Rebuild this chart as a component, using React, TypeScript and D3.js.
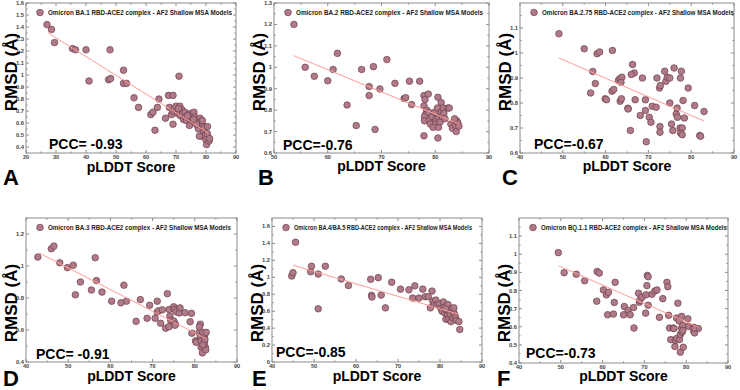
import React from "react";
import * as d3 from "d3";

// ---------- data ----------
const panelLetters = ["A", "B", "C", "D", "E", "F"];
const variants = ["BA.1", "BA.2", "BA.2.75", "BA.3", "BA.4/BA.5", "BQ.1.1"];
const pccLabels = ["PCC= -0.93", "PCC=-0.76", "PCC=-0.67", "PCC= -0.91", "PCC=-0.85", "PCC=-0.73"];

const xDomains: [number, number][] = [[20, 90], [50, 90], [40, 90], [40, 90], [40, 90], [40, 90]];
const yDomains: [number, number][] = [[0.35, 1.6], [0.6, 1.3], [0.6, 1.2], [0.4, 1.3], [0, 1.7], [0.4, 1.2]];

const xTicksA = [20, 30, 40, 50, 60, 70, 80, 90];
const xTicksB = [50, 60, 70, 80, 90];
const xTicksC = [40, 50, 60, 70, 80, 90];
const xTicksD = [40, 50, 60, 70, 80, 90];
const xTicksE = [40, 50, 60, 70, 80, 90];
const xTicksF = [40, 50, 60, 70, 80, 90];

const yTicksA = [0.4, 0.5, 0.6, 0.7, 0.8, 0.9, 1, 1.1, 1.2, 1.3, 1.4, 1.5, 1.6];
const yTicksB = [0.6, 0.7, 0.8, 0.9, 1, 1.1, 1.2, 1.3];
const yTicksC = [0.6, 0.7, 0.8, 0.9, 1, 1.1];
const yTicksD = [0.4, 0.6, 0.8, 1, 1.2];
const yTicksE = [0, 0.2, 0.4, 0.6, 0.8, 1, 1.2, 1.4, 1.6];
const yTicksF = [0.4, 0.5, 0.6, 0.7, 0.8, 0.9, 1, 1.1];

const ptsA: [number, number][] = [
  [27, 1.42], [28.5, 1.38], [29.5, 1.27], [35.5, 1.22], [36.5, 1.21], [40, 1.21], [48, 1.21],
  [52.5, 1.04], [41, 0.95], [47.5, 0.96], [48.2, 0.97], [52.5, 0.93], [53.5, 0.93],
  [56, 0.81], [57.5, 0.73], [61.6, 0.67], [62.3, 0.69], [63, 0.54], [63.8, 0.73], [64.3, 0.8],
  [66.5, 0.64], [67.5, 0.83], [69, 0.83], [71, 0.99], [69, 0.59],
  [67.8, 0.73], [68.5, 0.67], [69, 0.7], [69.5, 0.72], [70, 0.74], [70.5, 0.68], [71, 0.7],
  [71.3, 0.74], [71.5, 0.66], [72, 0.71], [72.3, 0.68], [72.5, 0.63], [73, 0.69], [73.2, 0.65],
  [73.5, 0.62], [74, 0.67], [74.3, 0.64], [74.5, 0.58], [75, 0.68], [75.3, 0.66], [75.5, 0.62],
  [76, 0.69], [76.2, 0.65], [76.5, 0.6], [77, 0.63], [77.3, 0.57], [77.5, 0.55], [78, 0.64],
  [78.3, 0.61], [78.5, 0.49], [79, 0.58], [79.2, 0.53], [79.5, 0.56], [79.8, 0.5], [80, 0.46],
  [80.2, 0.42], [80.5, 0.57], [80.5, 0.51], [81, 0.45], [81.2, 0.47], [77.8, 0.49], [76.8, 0.59],
  [78.8, 0.62], [70.8, 0.72], [73.8, 0.66], [75.8, 0.63],
];
const ptsB: [number, number][] = [
  [53.7, 1.2], [55.8, 1.0], [57.5, 0.958], [60, 0.937], [61, 0.99], [61.8, 1.065], [63.6, 0.824],
  [65.3, 0.728], [66.3, 0.99], [67.7, 0.91], [67.7, 0.868], [68.5, 1.003], [68.8, 0.71], [69.7, 0.899],
  [71, 1.036], [72.5, 0.925], [74.2, 0.854], [74.5, 0.858], [75.2, 0.935], [75.6, 0.826], [77.1, 0.935],
  [77.9, 0.868], [78.1, 0.85], [78.7, 0.875], [77.9, 0.82], [78.4, 0.8], [78.2, 0.78], [78, 0.77],
  [78, 0.75], [77.9, 0.68], [78.8, 0.79], [78.9, 0.75], [79.1, 0.735], [79.4, 0.77], [79.6, 0.72],
  [79.9, 0.79], [80.1, 0.745], [80.2, 0.76], [80.4, 0.81], [80.6, 0.765], [80.6, 0.72], [80.5, 0.67],
  [80.5, 0.86], [80.9, 0.745], [81.1, 0.79], [81.1, 0.835], [81.3, 0.77], [81.5, 0.81], [81.6, 0.785],
  [81.8, 0.76], [82.4, 0.81], [82.6, 0.81], [82.9, 0.735], [83.2, 0.715], [83.7, 0.73], [84, 0.75],
  [83.9, 0.7], [84.2, 0.74], [84.4, 0.725], [83.6, 0.76],
];
const ptsC: [number, number][] = [
  [49.1, 1.077], [55, 1.017], [58, 0.997], [58.6, 1.004], [61.6, 1.01], [57, 0.926], [57.6, 0.878],
  [56.5, 0.84], [59.9, 0.817], [60.2, 0.813], [61.5, 0.847], [61.9, 0.854], [63, 0.89], [63.3, 0.897],
  [63.8, 0.903], [63.6, 0.883], [63.4, 0.807], [63.7, 0.817], [65.2, 0.779], [65.3, 0.776], [65.8, 0.69],
  [66.3, 0.954], [66.7, 0.92], [66, 0.914], [66.9, 0.813], [68.1, 0.75], [68.6, 0.9], [69.3, 0.813],
  [69.3, 0.77], [69.5, 0.645], [70.2, 0.743], [70.6, 0.723], [70.9, 0.787], [71.8, 0.783], [72, 0.9],
  [72.6, 0.86], [72.8, 0.87], [72.7, 0.706], [72.7, 0.683], [73.8, 0.927], [74.1, 0.887], [74.4, 0.903],
  [75, 0.9], [75, 0.8], [75.4, 0.716], [75.7, 0.69], [76, 0.94], [76.5, 0.756], [76.7, 0.78],
  [76.8, 0.743], [77.5, 0.9], [77.7, 0.927], [77.4, 0.7], [77.9, 0.7], [77.5, 0.68], [77.9, 0.673],
  [78.1, 0.81], [78.4, 0.74], [79.3, 0.86], [80.8, 0.79], [83, 0.766], [82, 0.67], [82.2, 0.667],
];
const ptsD: [number, number][] = [
  [42.8, 1.056], [46, 1.108], [46.6, 1.124], [48, 1.02], [49.8, 0.99], [51.2, 1.005], [51.7, 0.82],
  [52.9, 0.9], [55.5, 0.85], [56.4, 1.052], [56.7, 0.909], [58, 0.837], [60.3, 0.78], [62.5, 0.77],
  [63.2, 0.88], [63.8, 0.78], [66.1, 0.654], [67.1, 0.79], [68.7, 0.673], [69.3, 0.755], [70.6, 0.673],
  [71.1, 0.78], [71.1, 0.712], [71.4, 0.72], [71.9, 0.642], [72.3, 0.726], [73.1, 0.611], [73.5, 0.827],
  [73.9, 0.728], [73.9, 0.621], [74.1, 0.687], [74.3, 0.66], [75, 0.745], [75.2, 0.728], [75, 0.656],
  [75.4, 0.636], [75.3, 0.63], [75.6, 0.714], [76.3, 0.706], [76.5, 0.738], [77.7, 0.708], [78.9, 0.652],
  [79.2, 0.704], [79.3, 0.58], [80.2, 0.533], [80.3, 0.523], [81, 0.585], [81.3, 0.636], [81.1, 0.62],
  [81.3, 0.564], [81.5, 0.533], [81.5, 0.492], [81.8, 0.457], [81.9, 0.585], [82.3, 0.554], [82.3, 0.523],
  [82.4, 0.54], [82.5, 0.492], [82.7, 0.585], [82.6, 0.476], [81.9, 0.507],
];
const ptsE: [number, number][] = [
  [44.7, 1.015], [45, 1.054], [45.6, 1.414], [49.2, 1.065], [49.4, 1.131], [51, 1.038], [51, 0.628],
  [52.7, 1.131], [56.5, 0.98], [58.2, 0.903], [63.5, 0.976], [63.7, 0.787], [63.8, 0.767], [65.3, 0.996],
  [66, 0.79], [67, 0.639], [68.5, 0.941], [70.6, 0.86], [72.6, 0.852], [73.5, 0.755], [74, 0.899],
  [75, 0.755], [75.9, 0.86], [76.5, 0.771], [77.2, 0.771], [78.1, 0.837], [77.7, 0.639], [78.3, 0.717],
  [78.7, 0.686], [79, 0.732], [79.3, 0.674], [79.8, 0.686], [80.2, 0.635], [80.5, 0.6], [80.8, 0.709],
  [81, 0.647], [81.1, 0.58], [81.4, 0.504], [81.6, 0.604], [81.9, 0.678], [81.9, 0.562], [82.1, 0.504],
  [82.3, 0.608], [82.6, 0.477], [82.5, 0.562], [82.8, 0.632], [83.1, 0.6], [83.1, 0.523], [83.4, 0.57],
  [83.7, 0.531], [83.9, 0.492], [84.5, 0.477], [84.7, 0.384], [81.3, 0.628], [83.3, 0.639],
];
const ptsF: [number, number][] = [
  [49.4, 1.009], [50.8, 0.898], [53.7, 0.89], [55.7, 0.854], [58.6, 0.741], [58.7, 0.905], [59.2, 0.896],
  [60.2, 0.803], [60.9, 0.776], [61.4, 0.79], [61.2, 0.666], [63, 0.845], [62.8, 0.734], [62.6, 0.67],
  [65, 0.666], [65.2, 0.712], [66.1, 0.69], [66.6, 0.666], [67.4, 0.706], [67.5, 0.593], [68.6, 0.785],
  [68.8, 0.735], [68.9, 0.746], [69.4, 0.763], [70.4, 0.776], [70.3, 0.675], [70.6, 0.827], [70.7, 0.883],
  [70.9, 0.876], [70.9, 0.719], [71.8, 0.779], [72.5, 0.797], [73, 0.803], [73.6, 0.652], [74.4, 0.755],
  [75.4, 0.845], [75.6, 0.821], [75.8, 0.663], [76, 0.593], [76.3, 0.529], [76.9, 0.593], [77.1, 0.59],
  [77.3, 0.491], [77.4, 0.524], [77.7, 0.535], [78, 0.73], [77.7, 0.648], [78.3, 0.632], [78.4, 0.529],
  [78.6, 0.557], [78.6, 0.46], [78.9, 0.657], [78.9, 0.593], [79, 0.57], [79.2, 0.608], [79.2, 0.579],
  [79.3, 0.487], [80.4, 0.644], [80.6, 0.602], [81.8, 0.597], [81.8, 0.575], [82, 0.566], [82.9, 0.59],
  [81.9, 0.592],
];

// fitted regression line endpoints
const fitA: [number, number][] = [[27.4, 1.35], [80.6, 0.52]];
const fitB: [number, number][] = [[53.7, 1.054], [84.5, 0.735]];
const fitC: [number, number][] = [[49.1, 0.98], [83, 0.728]];
const fitD: [number, number][] = [[43, 1.083], [82.5, 0.548]];
const fitE: [number, number][] = [[45, 1.143], [84.5, 0.562]];
const fitF: [number, number][] = [[49.5, 0.936], [83, 0.597]];

const allPts = [ptsA, ptsB, ptsC, ptsD, ptsE, ptsF];
const allFits = [fitA, fitB, fitC, fitD, fitE, fitF];
const allXTicks = [xTicksA, xTicksB, xTicksC, xTicksD, xTicksE, xTicksF];
const allYTicks = [yTicksA, yTicksB, yTicksC, yTicksD, yTicksE, yTicksF];

// ---------- layout ----------
const frames = [
  { x0: 26, x1: 236, y0: 3, y1: 153 },
  { x0: 274, x1: 489, y0: 3, y1: 153 },
  { x0: 520, x1: 734, y0: 3, y1: 153 },
  { x0: 26, x1: 237, y0: 218, y1: 362 },
  { x0: 272, x1: 482, y0: 218, y1: 362 },
  { x0: 519, x1: 728, y0: 218, y1: 363 },
];
const letterPos = [[3, 185], [258, 185], [502, 185], [3, 386], [252, 386], [497, 386]];
const pccPos = [[49, 149], [283, 150], [534, 149], [36, 359], [276, 357], [526, 358]];
const yTitleCy = [72, 72, 72, 303, 303, 303];
const xTitleBase = [172, 171, 171, 381, 381, 381];
const legendW = [184, 187, 192, 183, 178, 186];

const FONT = "'Liberation Sans', Arial, Helvetica, sans-serif";
const FRAME = "#8c8c8c";
const MARK_FILL = "#b07b88";
const MARK_STROKE = "#6f3d4b";
const FIT = "#ff9b95";

const fmt = (v: number) => String(Math.round(v * 100) / 100);

function Panel({ i }: { i: number }) {
  const f = frames[i];
  const x = d3.scaleLinear().domain(xDomains[i]).range([f.x0, f.x1]);
  const y = d3.scaleLinear().domain(yDomains[i]).range([f.y1, f.y0]);
  const xt = allXTicks[i];
  const yt = allYTicks[i];
  const xMinor: number[] = [];
  for (let k = 0; k < xt.length - 1; k++) xMinor.push((xt[k] + xt[k + 1]) / 2);
  const yMinor: number[] = [];
  for (let k = 0; k < yt.length - 1; k++) yMinor.push((yt[k] + yt[k + 1]) / 2);
  const ys = yt[1] - yt[0];
  if (yt[yt.length - 1] + ys / 2 < yDomains[i][1]) yMinor.push(yt[yt.length - 1] + ys / 2);
  if (yt[0] - ys / 2 > yDomains[i][0]) yMinor.push(yt[0] - ys / 2);
  const line = d3.line<[number, number]>().x((d) => x(d[0])).y((d) => y(d[1]));
  const M = 3, m = 1.6;
  const cx = (f.x0 + f.x1) / 2;
  return (
    <g>
      <rect x={f.x0} y={f.y0} width={f.x1 - f.x0} height={f.y1 - f.y0} fill="white" stroke={FRAME} strokeWidth={1} />
      {xt.map((t) => (
        <g key={"xt" + t}>
          <line x1={x(t)} x2={x(t)} y1={f.y1} y2={f.y1 - M} stroke={FRAME} />
          <line x1={x(t)} x2={x(t)} y1={f.y0} y2={f.y0 + M} stroke={FRAME} />
          <text x={x(t)} y={f.y1 + 6.3} fontSize={5.6} fontWeight="bold" fill="#444" textAnchor="middle">{fmt(t)}</text>
        </g>
      ))}
      {xMinor.map((t) => (
        <g key={"xm" + t}>
          <line x1={x(t)} x2={x(t)} y1={f.y1} y2={f.y1 - m} stroke={FRAME} />
          <line x1={x(t)} x2={x(t)} y1={f.y0} y2={f.y0 + m} stroke={FRAME} />
        </g>
      ))}
      {yt.map((t) => (
        <g key={"yt" + t}>
          <line x1={f.x0} x2={f.x0 + M} y1={y(t)} y2={y(t)} stroke={FRAME} />
          <line x1={f.x1} x2={f.x1 - M} y1={y(t)} y2={y(t)} stroke={FRAME} />
          <text x={f.x0 - 2} y={y(t) + 2} fontSize={5.8} fontWeight="bold" fill="#444" textAnchor="end">{fmt(t)}</text>
        </g>
      ))}
      {yMinor.map((t) => (
        <g key={"ym" + t}>
          <line x1={f.x0} x2={f.x0 + m} y1={y(t)} y2={y(t)} stroke={FRAME} />
          <line x1={f.x1} x2={f.x1 - m} y1={y(t)} y2={y(t)} stroke={FRAME} />
        </g>
      ))}
      {allPts[i].map((p, k) => (
        <circle key={k} cx={x(p[0])} cy={y(p[1])} r={3.3} fill={MARK_FILL} stroke={MARK_STROKE} strokeWidth={0.7} />
      ))}
      <path d={line(allFits[i]) || ""} fill="none" stroke={FIT} strokeWidth={1} />
      <circle cx={f.x0 + 14} cy={f.y0 + 9.5} r={3.3} fill={MARK_FILL} stroke={MARK_STROKE} strokeWidth={0.7} />
      <text x={f.x0 + 22} y={f.y0 + 12} fontSize={6.8} fontWeight="bold" fill="#222" textLength={legendW[i]} lengthAdjust="spacingAndGlyphs">
        {`Omicron ${variants[i]} RBD-ACE2 complex - AF2 Shallow MSA Models`}
      </text>
      <text x={pccPos[i][0]} y={pccPos[i][1]} fontSize={14} fontWeight="bold" fill="#000">{pccLabels[i]}</text>
      <text x={cx} y={xTitleBase[i]} fontSize={14} fontWeight="bold" fill="#000" textAnchor="middle">pLDDT Score</text>
      <text transform={`translate(${f.x0 - 9},${yTitleCy[i]}) rotate(-90)`} fontSize={17} fontWeight="bold" fill="#000" textAnchor="middle">RMSD (Å)</text>
      <text x={letterPos[i][0]} y={letterPos[i][1]} fontSize={22} fontWeight="bold" fill="#000">{panelLetters[i]}</text>
    </g>
  );
}

export default function App() {
  return (
    <svg width={740} height={390} style={{ position: "absolute", left: 0, top: 0, background: "white" }} fontFamily={FONT}>
      <rect x={0} y={0} width={740} height={390} fill="white" />
      {panelLetters.map((_, i) => <Panel key={i} i={i} />)}
    </svg>
  );
}
